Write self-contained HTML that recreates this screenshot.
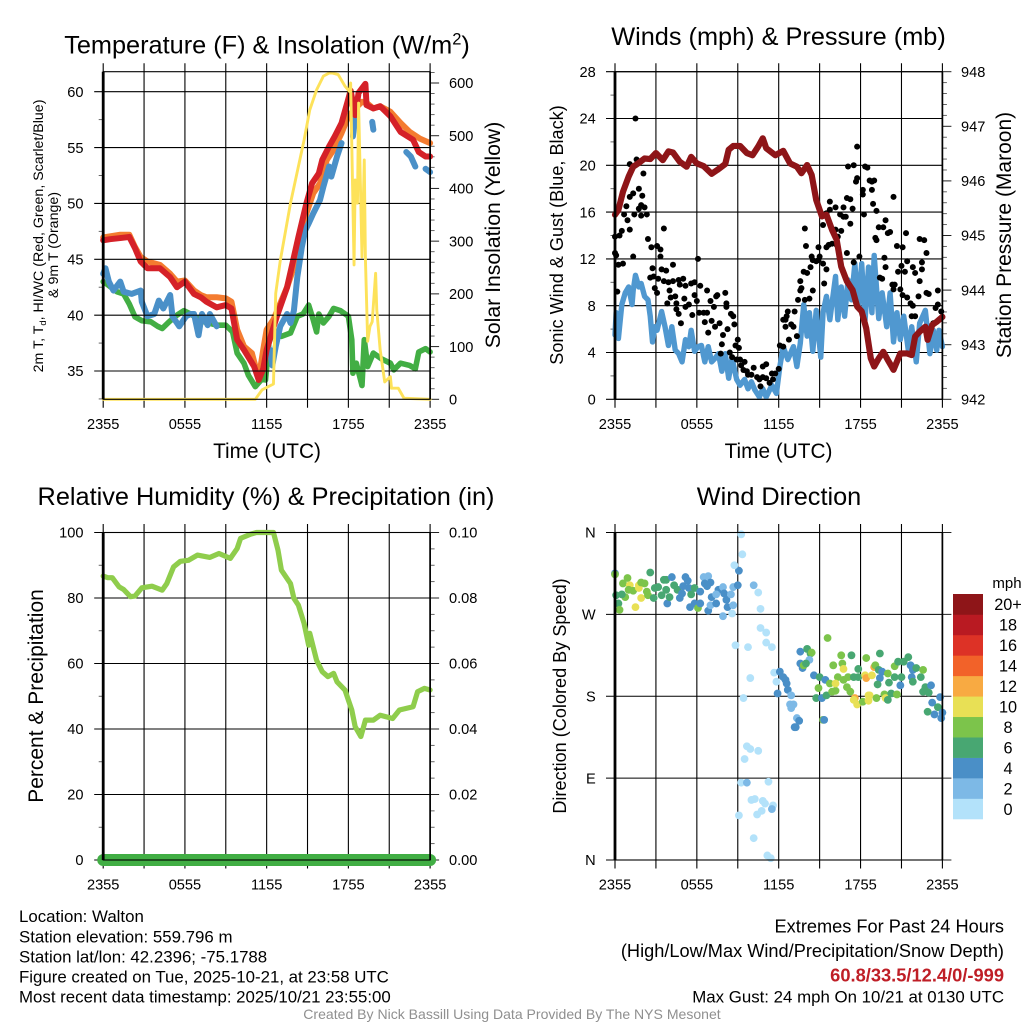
<!DOCTYPE html>
<html lang="en">
<head>
<meta charset="utf-8">
<title>Walton Mesonet Meteogram</title>
<style>
html,body{margin:0;padding:0;background:#fff;}
svg{display:block;font-family:"Liberation Sans",Arial,sans-serif;}
text{fill:#000;}
</style>
</head>
<body>
<svg id="chart" xmlns="http://www.w3.org/2000/svg" width="1024" height="1024" viewBox="0 0 1024 1024">
<rect x="0" y="0" width="1024" height="1024" fill="#fff"/>
<g id="p1"></g>
<g id="p2"></g>
<g id="p3"></g>
<g id="p4"></g>

<text x="267" y="53.5" font-size="25.3" text-anchor="middle">Temperature (F) &amp; Insolation (W/m<tspan font-size="16.5" dy="-9">2</tspan><tspan dy="9">)</tspan></text>
<text x="778.5" y="45" font-size="25.3" text-anchor="middle">Winds (mph) &amp; Pressure (mb)</text>
<text x="266" y="505" font-size="25.3" text-anchor="middle">Relative Humidity (%) &amp; Precipitation (in)</text>
<text x="779" y="505" font-size="25.3" text-anchor="middle">Wind Direction</text>

<text x="267" y="458" font-size="20.8" text-anchor="middle">Time (UTC)</text>
<text x="778.5" y="458" font-size="20.8" text-anchor="middle">Time (UTC)</text>

<text transform="translate(43,236) rotate(-90)" font-size="14.2" text-anchor="middle">2m T, T<tspan font-size="9.5" dy="3">d</tspan><tspan dy="-3">, HI/WC (Red, Green, Scarlet/Blue)</tspan></text>
<text transform="translate(58,245) rotate(-90)" font-size="14.2" text-anchor="middle">&amp; 9m T (Orange)</text>
<text transform="translate(500,235) rotate(-90)" font-size="21.2" text-anchor="middle">Solar Insolation (Yellow)</text>
<text transform="translate(563,235) rotate(-90)" font-size="18.1" text-anchor="middle">Sonic Wind &amp; Gust (Blue, Black)</text>
<text transform="translate(1011,235) rotate(-90)" font-size="21" text-anchor="middle">Station Pressure (Maroon)</text>
<text transform="translate(43,696) rotate(-90)" font-size="21" text-anchor="middle">Percent &amp; Precipitation</text>
<text transform="translate(566,696) rotate(-90)" font-size="18.1" text-anchor="middle">Direction (Colored By Speed)</text>

<text x="1007" y="588" font-size="15" text-anchor="middle">mph</text>
<g id="colorbar"></g>

<g font-size="16.85">
<text x="19" y="922">Location: Walton</text>
<text x="19" y="942.5">Station elevation: 559.796 m</text>
<text x="19" y="962.5">Station lat/lon: 42.2396; -75.1788</text>
<text x="19" y="982.5">Figure created on Tue, 2025-10-21, at 23:58 UTC</text>
<text x="19" y="1002.5">Most recent data timestamp: 2025/10/21 23:55:00</text>
</g>
<g text-anchor="end">
<text x="1004" y="932.5" font-size="18.2">Extremes For Past 24 Hours</text>
<text x="1004" y="957" font-size="18.2">(High/Low/Max Wind/Precipitation/Snow Depth)</text>
<text x="1004" y="981.5" font-size="18.3" font-weight="bold" style="fill:#bf1e26">60.8/33.5/12.4/0/-999</text>
<text x="1004" y="1002.5" font-size="16.85">Max Gust: 24 mph On 10/21 at 0130 UTC</text>
</g>
<text x="512" y="1019" font-size="14.05" text-anchor="middle" style="fill:#8f8f8f">Created By Nick Bassill Using Data Provided By The NYS Mesonet</text>
</svg>

<script>
/* ---------- shared labels (x positions are 5-minute steps since 2355 UTC) ---------- */
var timeLabels = ["2355","0555","1155","1755","2355"];
var timeLabelSteps = [0,72,144,216,288];
var timeGridSteps = [0,36,72,108,144,180,216,252,288];

/* ---------- temperature panel ---------- */
var tempTicks = [35,40,45,50,55,60];
var tempMinorTicks = [32.5,37.5,42.5,47.5,52.5,57.5];
var solarTicks = [0,100,200,300,400,500,600];
var solarMinorTicks = [20,40,60,80,120,140,160,180,220,240,260,280,320,340,360,380,420,440,460,480,520,540,560,580,620];

var airTempSteps = [0,6,15,23,28,33,39,50,59,65,72,80,86,91,100,108,113,118,124,133,137,141,144,153,162,166,172,179,184,190,193,199,204,210,215,218,222,225,231,232,238,244,253,262,273,278,284,288];
var airTempValues = [46.7,46.8,46.9,47.0,46.0,44.8,44.2,44.2,43.4,42.5,43.0,41.9,41.6,41.2,40.7,40.9,40.6,37.8,36.9,35.4,34.2,35.2,36.9,39.9,42.5,44.3,47.0,50.0,51.8,52.7,53.9,55.1,56.0,57.2,59.0,60.1,57.9,59.9,60.7,58.8,58.5,58.7,57.8,56.4,55.7,54.6,54.2,54.2];

var temp9mSteps = [0,15,23,28,33,39,50,59,65,72,80,86,91,100,108,113,118,124,131,137,141,144,150,162,166,172,179,185,191,197,203,210,216,222,228,232,238,244,253,262,270,279,288];
var temp9mValues = [46.95,47.2,47.2,46.1,45.2,44.8,44.5,43.7,43.0,43.1,42.2,41.8,41.6,41.6,41.5,41.2,38.7,37.2,36.6,34.3,36.9,38.7,39.6,42.5,43.7,46.1,49.1,50.9,51.8,53.9,54.8,56.3,57.8,58.5,59.1,59.0,58.5,58.7,58.2,57.2,56.4,55.8,55.4];

var dewPointSteps = [0,3,12,18,23,28,34,42,48,52,58,65,71,77,89,100,108,114,118,124,128,134,140,143,146,150,157,165,171,176,181,185,188,190,194,199,203,209,216,219,220,223,228,230,233,238,245,253,256,262,270,275,278,284,288];
var dewPointValues = [43.0,42.8,42.1,41.9,41.0,39.85,39.5,39.4,39.0,38.8,39.4,40.0,40.4,40.1,39.4,39.1,39.1,38.5,36.6,35.7,34.6,33.6,34.3,34.2,37.5,38.7,38.1,38.4,39.9,40.1,40.9,39.6,38.5,40.1,39.3,39.9,40.6,40.4,39.9,37.8,34.8,35.7,33.7,37.8,35.4,36.6,36.1,35.7,35.1,35.7,35.5,35.2,36.7,37.0,36.7];

var windChillSteps = [0,2,5,9,15,18,25,33,34,39,45,49,53,59,61,67,73,77,80,84,87,92,94,100,105,147,149,152,156,162,165,168,171,175,178,181,185,191,194,199,201,206,210,213,220,223,226,237,238,240,267,271,275,278,284,288];
var windChillValues = [43.7,44.2,43.0,42.2,43.0,42.1,41.9,42.2,41.2,39.9,40.1,41.3,40.6,41.8,39.9,39.0,39.9,40.1,40.1,38.2,40.1,39.1,40.1,39.0,null,36.9,35.5,37.2,39.0,40.1,39.3,40.4,43.4,46.1,47.6,48.2,49.1,50.3,51.5,53.3,52.4,54.2,55.4,null,56.0,58.4,null,57.3,56.6,null,54.6,54.2,53.3,null,53.1,52.8];

var solarSteps = [0,134,140,150,152,156,165,177,182,188,194,200,207,213,217,218,219,221,222,224,225,228,230,231,233,235,237,240,241,244,248,253,254,260,265,288];
var solarValues = [0,0,18,29,201,263,372,492,549,587,613,620,616,594,584,600,484,255,416,372,562,270,454,268,110,138,147,239,170,94,33,43,21,21,2,0];

/* ---------- winds panel ---------- */
var windTicks = [0,4,8,12,16,20,24,28];
var windMinorTicks = [2,6,10,14,18,22,26];
var pressureTicks = [942,943,944,945,946,947,948];
var pressureMinorTicks = [942.2,942.4,942.6,942.8,943.2,943.4,943.6,943.8,944.2,944.4,944.6,944.8,945.2,945.4,945.6,945.8,946.2,946.4,946.6,946.8,947.2,947.4,947.6,947.8];

var sonicSteps = [0,1,3,6,9,12,15,16,18,21,23,26,29,31,33,35,37,41,44,47,50,53,56,59,62,65,67,70,73,76,79,82,85,88,91,94,97,100,103,107,110,114,117,120,123,127,130,133,138,142,145,148,152,157,160,163,166,169,171,174,177,181,183,186,189,194,196,199,202,205,208,211,214,217,220,223,226,228,232,235,239,242,245,248,251,254,258,261,265,268,273,277,280,283,285,288];
var sonicValues = [5.5,7.4,5.2,8.1,9.1,9.6,8.1,9.3,10.6,9.6,9.9,8.8,8.5,7.1,4.9,6.2,5.9,7.5,6.2,4.6,6.2,4.2,3.9,3.2,5.1,4.5,5.9,4.1,4.5,4.6,3.2,4.5,3.2,3.5,3.9,2.4,3.9,1.8,3.5,1.7,1.2,1.7,0.9,1.5,0.8,0.2,0.9,0.2,1.2,0.5,2.8,4.5,3.4,4.5,2.8,4.8,8.1,5.4,7.4,4.1,7.6,3.6,7.4,8.8,6.8,10.5,6.8,9.6,7.1,10.2,8.5,11.6,7.8,11.6,6.8,11.3,7.4,12.3,6.9,9.1,6.2,9.1,4.9,7.4,5.1,7.1,4.2,6.2,3.2,6.5,7.6,3.9,5.9,4.2,5.9,4.5];

var gustSteps = [0,0,1,3,7,2,4,6,8,10,11,13,13,16,13,19,16,21,17,21,23,23,26,24,28,25,29,18,32,37,40,40,43,33,31,34,35,37,38,41,45,51,43,47,51,48,46,49,53,54,54,56,60,57,62,67,70,75,73,61,62,65,56,58,68,70,72,74,78,81,79,85,81,84,89,87,90,97,98,98,102,104,88,92,82,105,99,95,94,108,106,109,93,101,103,107,110,111,114,113,116,117,120,122,125,127,130,133,128,130,133,138,141,144,139,136,145,148,148,150,150,152,151,155,158,157,160,153,161,163,164,167,171,174,184,163,166,169,172,173,174,177,179,180,183,186,179,167,168,183,184,189,189,194,186,188,191,186,194,195,199,196,198,201,203,207,204,207,201,209,204,210,215,205,210,213,213,212,220,222,224,226,228,218,218,226,227,219,230,232,236,238,229,230,240,242,245,237,238,233,235,244,246,245,248,253,256,249,252,257,255,251,253,257,260,262,261,264,262,264,270,270,268,268,272,274,274,276,267,284,282,284,287,280,277];
var gustValues = [12.5,13.9,12.3,11.5,11.6,9.2,14.0,14.4,15.8,16.5,15.3,14.5,17.3,12.2,20.1,20.5,17.6,18.0,15.8,16.3,15.7,16.6,16.4,17.4,15.8,19.3,13.7,24.0,13.0,13.1,12.8,12.2,14.6,11.2,10.4,10.5,9.5,9.1,10.3,11.1,11.0,11.5,10.1,10.0,10.1,9.3,8.2,8.7,8.8,8.2,7.7,10.2,10.3,9.8,9.7,9.9,10.0,9.7,12.0,8.6,7.9,8.1,7.3,6.5,7.2,8.9,8.4,7.4,7.4,7.4,6.6,6.7,9.3,8.4,8.8,7.9,8.9,9.1,7.9,8.2,7.3,7.1,6.2,6.5,5.7,6.4,6.0,5.5,4.7,5.1,4.6,4.4,3.9,4.0,3.6,3.4,3.4,2.9,3.2,2.5,2.4,2.1,2.1,2.7,1.9,1.7,2.8,3.0,1.1,1.9,1.8,2.2,2.2,2.6,1.7,1.4,4.6,4.5,6.8,6.8,6.2,7.5,7.1,6.4,7.5,6.2,5.4,5.1,8.5,9.3,9.5,8.5,8.6,9.3,9.9,10.1,10.9,10.8,11.3,12.2,11.9,11.8,11.9,12.2,11.6,11.1,13.0,14.6,13.1,14.9,15.8,16.9,16.2,16.4,15.9,13.2,13.3,13.0,14.5,13.2,14.4,13.9,15.8,15.6,15.6,15.0,17.2,17.1,16.4,16.3,12.5,11.7,12.2,19.9,20.0,21.6,18.9,18.6,19.9,19.8,18.7,18.6,18.7,17.9,17.5,17.9,16.7,15.8,16.1,14.7,14.7,15.3,13.8,13.6,14.2,14.3,17.3,12.1,11.3,10.4,10.3,9.8,9.8,9.4,13.1,13.0,14.2,10.9,11.4,11.8,10.9,9.4,8.9,8.7,8.2,8.0,7.1,7.1,11.3,10.8,11.7,11.1,10.1,13.7,13.6,12.5,9.1,9.0,8.8,9.3,7.8,8.1,7.5,6.5,5.8];

var pressureSteps = [0,3,7,12,16,21,26,31,36,42,47,51,57,63,67,72,78,85,90,97,100,104,110,116,121,126,130,133,141,148,154,160,164,169,173,177,182,186,191,195,199,204,209,213,217,221,225,228,232,236,240,245,251,257,261,264,268,273,275,279,283,288];
var pressureValues = [945.38,945.47,945.80,946.08,946.26,946.33,946.41,946.40,946.51,946.38,946.54,946.52,946.35,946.26,946.44,946.32,946.27,946.13,946.20,946.31,946.57,946.64,946.64,946.51,946.47,946.63,946.78,946.60,946.47,946.55,946.32,946.26,946.14,946.29,946.11,945.65,945.35,945.38,945.10,944.92,944.43,944.16,944.00,943.70,943.61,943.30,942.75,942.60,942.75,942.87,942.72,942.54,942.84,942.84,942.81,943.15,943.24,943.33,943.09,943.36,943.42,943.51];

/* ---------- humidity panel ---------- */
var rhTicks = [0,20,40,60,80,100];
var rhMinorTicks = [10,30,50,70,90];
var precipTicks = [0,0.02,0.04,0.06,0.08,0.10];
var precipTickLabels = ["0.00","0.02","0.04","0.06","0.08","0.10"];
var precipMinorTicks = [0.005,0.01,0.015,0.025,0.03,0.035,0.045,0.05,0.055,0.065,0.07,0.075,0.085,0.09,0.095];

var rhSteps = [0,4,8,14,18,24,28,34,43,52,56,62,68,75,83,94,102,112,118,121,130,135,150,154,157,165,168,172,177,181,182,188,193,198,203,206,213,219,222,227,231,238,244,255,261,273,277,283,288];
var rhValues = [86.7,86.2,86.2,83.4,82.6,80.4,80.6,83.1,83.6,82.4,84.4,89.5,91.2,91.5,93.1,92.4,93.6,92.1,95.1,98.2,99.5,100,100,94.6,88.5,84.4,79.9,77.8,72.2,65.6,69.2,61.0,57.5,56.0,57.0,54.4,51.9,45.8,40.7,37.7,42.7,42.7,44.2,43.2,45.8,46.8,51.4,52.4,51.9];

var precipSteps = [0,144,288];
var precipValues = [0,0,0];

/* ---------- wind direction panel ---------- */
var dirTicks = [0,90,180,270,360];
var dirTickLabels = ["N","E","S","W","N"];
var speedBinLabels = ["0","2","4","6","8","10","12","14","16","18","20+"];
var speedBinColors = ["#b3e2fa","#7db9e6","#4a8fc7","#48a772","#7cc44b","#e8e055","#f8aa42","#f26229","#dd3226","#b91a22","#8e1518"];

var dirSteps = [0,0,1,3,4,9,6,7,11,13,12,16,21,21,23,26,23,18,28,29,31,34,35,38,41,43,45,45,46,48,50,52,55,57,60,59,62,64,65,66,67,70,70,73,75,75,78,82,79,84,81,82,85,84,89,91,89,95,96,98,99,95,103,104,102,104,108,109,105,111,112,122,126,128,128,133,133,138,106,117,119,113,140,145,142,148,150,151,152,143,155,154,157,155,160,162,158,159,163,169,172,173,171,163,165,166,168,175,180,185,187,199,208,192,200,201,221,233,177,179,182,186,189,191,194,196,194,201,204,207,205,210,214,214,220,221,226,228,229,232,235,233,231,240,241,246,246,249,252,251,254,258,260,262,265,261,262,269,271,273,278,271,276,211,210,213,218,223,224,223,230,237,238,240,243,248,183,184,279,286,284,288,281,275,287,116,119,126,114,111,116,135,120,123,130,132,139,138,129,125,109,122,134,137];
var dirValues = [315,314,291,282,275,289,292,304,310,302,297,296,299,302,305,304,288,278,295,291,316,288,299,300,291,308,308,297,282,289,311,302,297,288,301,293,311,307,299,278,292,299,282,277,282,295,311,312,304,305,301,274,289,280,282,297,292,300,293,286,278,268,271,280,292,300,302,318,324,358,336,302,294,276,255,250,239,234,236,234,200,178,206,207,196,201,198,194,187,183,181,171,171,167,156,153,146,146,229,232,227,228,220,216,211,214,216,203,201,198,244,225,225,214,216,210,222,227,178,189,178,181,194,185,186,201,194,198,190,185,201,201,210,201,203,200,203,212,214,209,207,200,193,205,195,201,213,218,201,192,218,223,214,209,211,201,196,201,209,190,192,185,184,178,176,171,174,181,181,175,178,182,178,176,183,182,154,154,173,179,168,162,160,163,156,125,122,120,111,85,85,86,66,67,65,62,60,56,54,50,49,24,5,2];
var dirSpeeds = [4,8,6,6,8,8,6,8,8,10,8,8,10,10,8,8,10,10,8,8,6,6,6,6,6,6,6,6,4,6,4,6,6,4,4,4,4,4,4,4,6,6,4,8,4,4,2,2,4,4,4,4,4,2,4,4,2,2,4,4,4,2,0,2,2,2,4,4,0,0,0,2,0,0,0,0,0,0,0,0,0,0,0,4,0,4,4,4,4,4,2,2,2,2,2,4,4,4,4,6,6,8,2,4,4,8,6,4,6,4,8,8,6,8,8,10,8,6,6,8,4,6,8,8,8,8,10,8,8,8,8,6,6,6,10,12,10,12,8,6,4,4,6,8,6,6,8,6,6,4,6,6,4,4,6,4,6,6,8,6,4,6,6,12,10,10,8,10,10,10,8,8,10,6,6,8,8,4,4,4,6,4,4,6,4,0,0,0,0,0,2,0,0,0,0,0,0,2,0,0,0,0,0,0];

/* ---------- helpers ---------- */
var NS = "http://www.w3.org/2000/svg";
function mk(parent, tag, attrs, name) {
  var el = document.createElementNS(NS, tag);
  for (var k in attrs) { el.setAttribute(k, attrs[k]); }
  
  
  parent.appendChild(el);
  return el;
}
function linear(d0, d1, r0, r1) {
  return function (v) { return r0 + (v - d0) * (r1 - r0) / (d1 - d0); };
}
function tickLabel(parent, x, y, str, anchor, name) {
  var t = mk(parent, "text", {x: x, y: y, "font-size": 14.6, "text-anchor": anchor}, name);
  t.textContent = str;
}
function segment(parent, x1, y1, x2, y2, w, color, name) {
  mk(parent, "line", {x1: x1, y1: y1, x2: x2, y2: y2, stroke: color, "stroke-width": w}, name);
}
function series(parent, steps, values, xs, ys, color, width, name) {
  var d = "", pen = false;
  for (var i = 0; i < steps.length; i++) {
    if (values[i] === null) { pen = false; continue; }
    d += (pen ? "L" : "M") + xs(steps[i]).toFixed(2) + " " + ys(values[i]).toFixed(2);
    pen = true;
  }
  mk(parent, "path", {d: d, fill: "none", stroke: color, "stroke-width": width, "stroke-linejoin": "round", "stroke-linecap": "round"}, name);
}
function xGrid(parent, box, xs) {
  timeGridSteps.forEach(function (s) {
    segment(parent, xs(s), box.t - 8.5, xs(s), box.b + 8.5, 1.1, "#000", "x-grid-line");
  });
}
function xLabels(parent, box, xs) {
  timeLabels.forEach(function (lab, i) {
    tickLabel(parent, xs(timeLabelSteps[i]), box.b + 29.5, lab, "middle", "x-tick-label");
  });
}
function yGrid(parent, box, ticks, ys) {
  ticks.forEach(function (v) {
    segment(parent, box.l - 9, ys(v), box.r, ys(v), 1.1, "#000", "y-grid-line");
  });
}
function minorTicks(parent, x0, x1, ticks, ys) {
  ticks.forEach(function (v) {
    segment(parent, x0, ys(v), x1, ys(v), 0.9, "#555", "minor-tick");
  });
}
function majorTicks(parent, x0, x1, ticks, ys) {
  ticks.forEach(function (v) {
    segment(parent, x0, ys(v), x1, ys(v), 1, "#222", "major-tick");
  });
}
function yLabels(parent, x, ticks, labels, ys, anchor) {
  ticks.forEach(function (v, i) {
    tickLabel(parent, x, ys(v) + 5.2, labels[i], anchor, "y-tick-label");
  });
}
function frame(parent, box) {
  mk(parent, "rect", {x: box.l, y: box.t, width: box.r - box.l, height: box.b - box.t, fill: "none", stroke: "#000", "stroke-width": 1.1}, "plot-frame");
  segment(parent, box.l, box.t, box.l, box.b, 2.8, "#000", "left-axis-line");
  segment(parent, box.r, box.t, box.r, box.b, 1.7, "#000", "right-axis-line");
}

/* ---------- temperature panel ---------- */
(function () {
  var g = document.getElementById("p1");
  var box = {l: 103.2, r: 430.1, t: 71.7, b: 399.3};
  var xs = linear(0, 288, box.l, box.r);
  var ys = linear(35, 60, 371, 91.7);
  var yr = linear(0, 600, box.b, 83);
  minorTicks(g, box.l - 4.5, box.l, tempMinorTicks, ys);
  minorTicks(g, box.r, box.r + 4.5, solarMinorTicks, yr);
  majorTicks(g, box.r, box.r + 9, solarTicks, yr);
  series(g, temp9mSteps, temp9mValues, xs, ys, "#f47c30", 6, "nine-meter-temperature-line");
  series(g, dewPointSteps, dewPointValues, xs, ys, "#42ae44", 5.6, "dew-point-line");
  series(g, windChillSteps, windChillValues, xs, ys, "#4a90c8", 6, "wind-chill-line");
  series(g, airTempSteps, airTempValues, xs, ys, "#d52128", 6, "air-temperature-line");
  xGrid(g, box, xs);
  yGrid(g, box, tempTicks, ys);
  series(g, solarSteps, solarValues, xs, yr, "#fde25a", 2.9, "solar-insolation-line");
  frame(g, box);
  xLabels(g, box, xs);
  yLabels(g, 83.5, tempTicks, tempTicks, ys, "end");
  yLabels(g, 449, solarTicks, solarTicks, yr, "start");
})();

/* ---------- winds panel ---------- */
(function () {
  var g = document.getElementById("p2");
  var box = {l: 615, r: 942.4, t: 71.7, b: 399.3};
  var xs = linear(0, 288, box.l, box.r);
  var ys = linear(0, 28, box.b, box.t);
  var yr = linear(942, 948, box.b, box.t);
  minorTicks(g, box.l - 4.5, box.l, windMinorTicks, ys);
  minorTicks(g, box.r, box.r + 4.5, pressureMinorTicks, yr);
  majorTicks(g, box.r, box.r + 9, pressureTicks, yr);
  xGrid(g, box, xs);
  yGrid(g, box, windTicks, ys);
  series(g, sonicSteps, sonicValues, xs, ys, "#5098d0", 5.4, "sonic-wind-line");
  gustSteps.forEach(function (s, i) {
    mk(g, "circle", {cx: xs(s), cy: ys(gustValues[i]), r: 3, fill: "#000"}, "gust-point");
  });
  series(g, pressureSteps, pressureValues, xs, yr, "#8e1518", 6.2, "station-pressure-line");
  frame(g, box);
  xLabels(g, box, xs);
  yLabels(g, 595.7, windTicks, windTicks, ys, "end");
  yLabels(g, 961, pressureTicks, pressureTicks, yr, "start");
})();

/* ---------- humidity panel ---------- */
(function () {
  var g = document.getElementById("p3");
  var box = {l: 103.2, r: 430.1, t: 532.5, b: 860};
  var xs = linear(0, 288, box.l, box.r);
  var ys = linear(0, 100, box.b, box.t);
  var yr = linear(0, 0.1, box.b, box.t);
  minorTicks(g, box.l - 4.5, box.l, rhMinorTicks, ys);
  minorTicks(g, box.r, box.r + 4.5, precipMinorTicks, yr);
  majorTicks(g, box.r, box.r + 9, precipTicks, yr);
  xGrid(g, box, xs);
  yGrid(g, box, rhTicks, ys);
  series(g, rhSteps, rhValues, xs, ys, "#8fcd4c", 5.2, "relative-humidity-line");
  series(g, precipSteps, precipValues, xs, yr, "#41ae44", 12, "precipitation-line");
  frame(g, box);
  xLabels(g, box, xs);
  yLabels(g, 83.5, rhTicks, rhTicks, ys, "end");
  yLabels(g, 449, precipTicks, precipTickLabels, yr, "start");
})();

/* ---------- wind direction panel ---------- */
(function () {
  var g = document.getElementById("p4");
  var box = {l: 615, r: 942.4, t: 532.5, b: 860};
  var xs = linear(0, 288, box.l, box.r);
  var ys = linear(0, 360, box.b, box.t);
  xGrid(g, box, xs);
  yGrid(g, box, dirTicks, ys);
  majorTicks(g, box.r, box.r + 9, dirTicks, ys);
  dirSteps.forEach(function (s, i) {
    var bin = Math.min(speedBinColors.length - 1, Math.round(dirSpeeds[i] / 2));
    mk(g, "circle", {cx: xs(s), cy: ys(dirValues[i]), r: 3.9, fill: speedBinColors[bin]}, "wind-direction-point");
  });
  frame(g, box);
  xLabels(g, box, xs);
  yLabels(g, 595.7, dirTicks, dirTickLabels, ys, "end");

  /* color bar, built from the bins */
  var cb = document.getElementById("colorbar");
  var top = 594, bottom = 819;
  var yb = linear(0, speedBinLabels.length, bottom, top);
  speedBinLabels.forEach(function (lab, i) {
    mk(cb, "rect", {x: 953, y: yb(i + 1), width: 30, height: yb(i) - yb(i + 1) + 0.3, fill: speedBinColors[i]}, "colorbar-swatch");
    var t = mk(cb, "text", {x: 1008, y: yb(i + 0.5) + 6, "font-size": 16.3, "text-anchor": "middle"}, "colorbar-label");
    t.textContent = lab;
  });
})();
</script>
</body>
</html>
